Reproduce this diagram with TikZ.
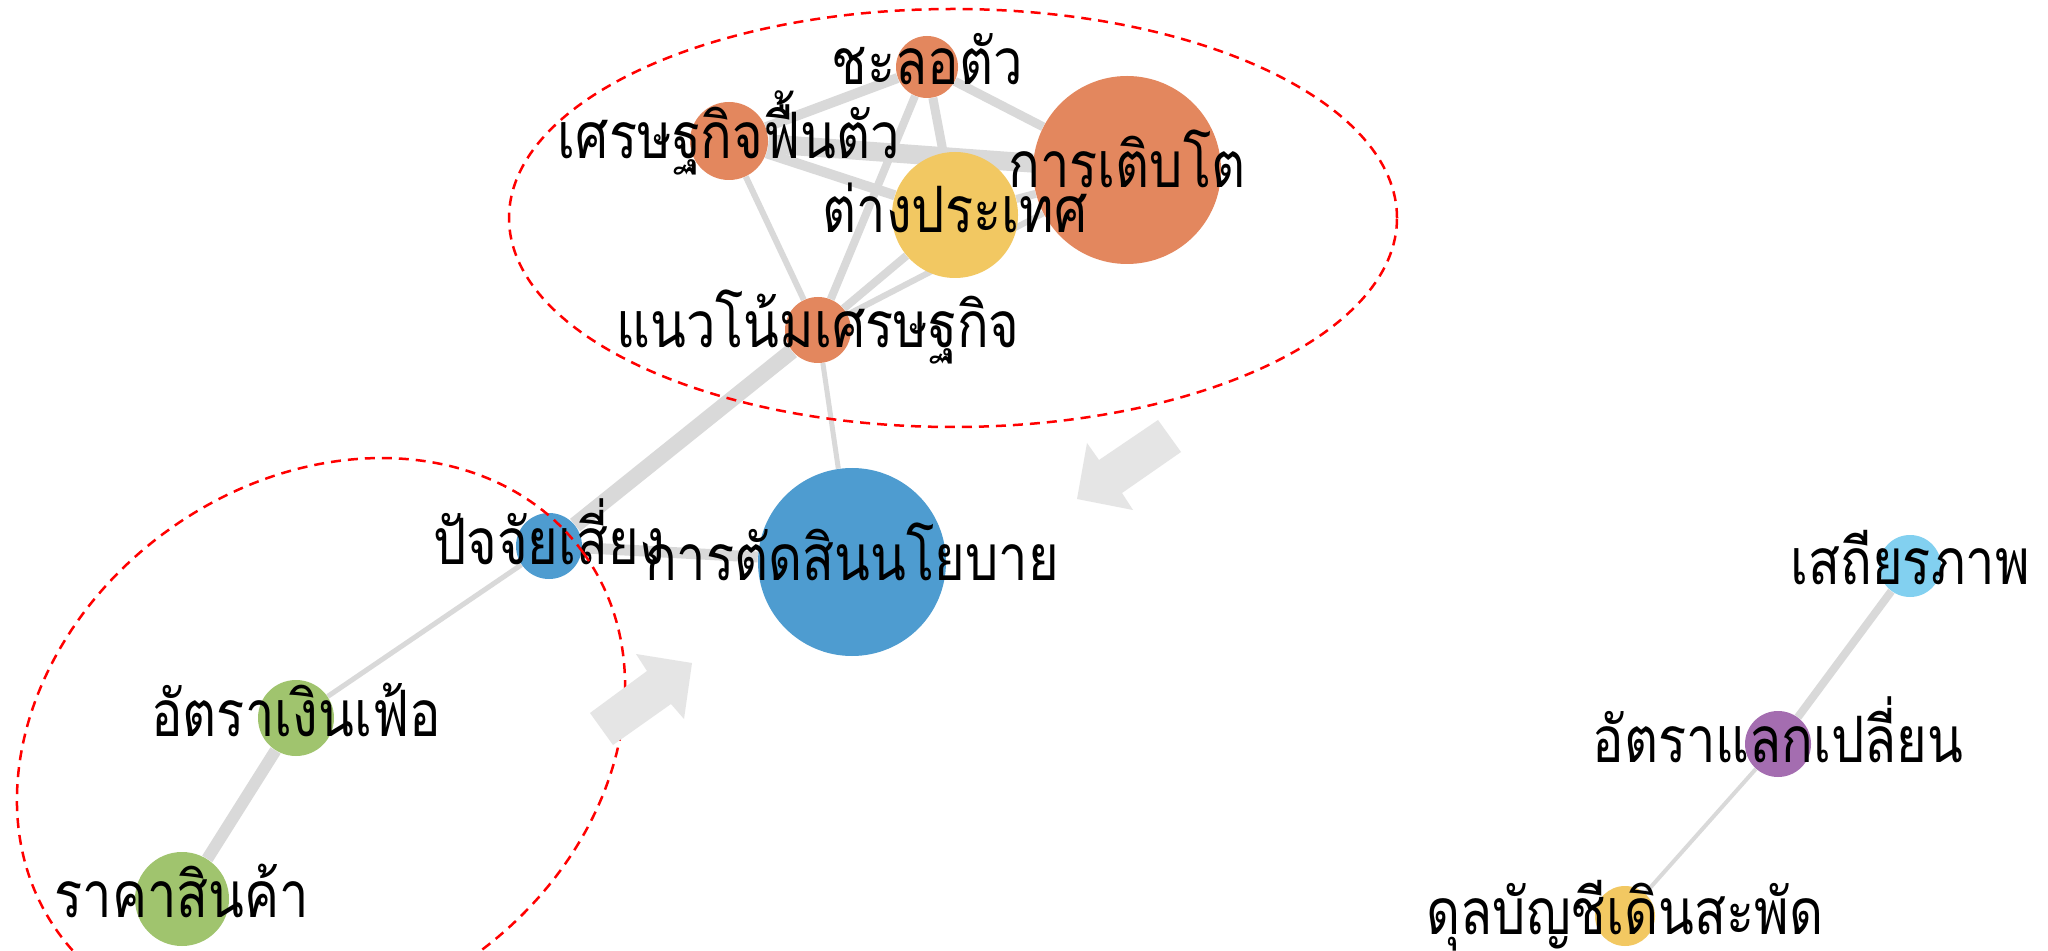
\documentclass[tikz,border=0pt]{standalone}
\usepackage{fontspec}
\newfontfamily\thaifont[Script=Thai,FakeStretch=0.82]{Loma}
\definecolor{edgegray}{RGB}{217,217,217}
\definecolor{arrowgray}{RGB}{229,229,229}
\definecolor{cOrange}{RGB}{227,135,94}
\definecolor{cYellow}{RGB}{242,200,98}
\definecolor{cBlue}{RGB}{78,156,208}
\definecolor{cGreen}{RGB}{160,196,110}
\definecolor{cSky}{RGB}{130,208,240}
\definecolor{cPurple}{RGB}{164,109,176}
\pgfdeclarelayer{edges}
\pgfdeclarelayer{front}
\pgfsetlayers{edges,main,front}
\begin{document}
\begin{tikzpicture}[x=0.5pt,y=-0.5pt,
  dot/.style={circle,inner sep=0pt,draw=none},
  lbl/.style={font=\thaifont\fontsize{32}{32}\selectfont,inner sep=0pt,anchor=base},
  lnk/.style={draw=edgegray,line cap=butt},
  grp/.style={draw=red,line width=1.25pt,dash pattern=on 5pt off 3.5pt},
  bigarrow/.style={fill=arrowgray,draw=none}]
\useasboundingbox (0,0) rectangle (2048,951);
% nodes
\node[dot,fill=cOrange,minimum size=31pt] (cha) at (927,67) {};
\node[dot,fill=cOrange,minimum size=39pt] (fuen) at (729,141) {};
\node[dot,fill=cOrange,minimum size=94pt] (toe) at (1127,170) {};
\node[dot,fill=cYellow,minimum size=63pt] (tang) at (955,215) {};
\node[dot,fill=cOrange,minimum size=33pt] (naew) at (818,330) {};
\node[dot,fill=cBlue,minimum size=94pt] (tad) at (852,562) {};
\node[dot,fill=cBlue,minimum size=33pt] (pat) at (549,546) {};
\node[dot,fill=cGreen,minimum size=38pt] (fer) at (296,718) {};
\node[dot,fill=cGreen,minimum size=47pt] (rak) at (182,899) {};
\node[dot,fill=cSky,minimum size=31pt] (sat) at (1910,566) {};
\node[dot,fill=cPurple,minimum size=33pt] (laek) at (1778,744) {};
\node[dot,fill=cYellow,minimum size=30pt] (dun) at (1625,916) {};
% edges
\begin{pgfonlayer}{edges}
\fill[white] (0,0) rectangle (2048,951);
\draw[lnk,line width=5pt] (cha) -- (fuen);
\draw[lnk,line width=4.5pt] (cha) -- (toe);
\draw[lnk,line width=4.5pt] (cha) -- (tang);
\draw[lnk,line width=4pt] (cha) -- (naew);
\draw[lnk,line width=9.5pt] (fuen) -- (toe);
\draw[lnk,line width=5pt] (fuen) -- (tang);
\draw[lnk,line width=3pt] (fuen) -- (naew);
\draw[lnk,line width=4pt] (tang) -- (toe);
\draw[lnk,line width=4pt] (naew) -- (tang);
\draw[lnk,line width=3pt] (naew) -- (toe);
\draw[lnk,line width=2.5pt] (naew) -- (tad);
\draw[lnk,line width=8pt] (naew) -- (pat);
\draw[lnk,line width=5.5pt] (pat) -- (tad);
\draw[lnk,line width=2.5pt] (pat) -- (fer);
\draw[lnk,line width=6pt] (fer) -- (rak);
\draw[lnk,line width=4pt] (sat) -- (laek);
\draw[lnk,line width=2pt] (laek) -- (dun);
\end{pgfonlayer}
% labels, groups and arrows
\begin{pgfonlayer}{front}
\node[lbl] (cha-t) at ([yshift=-9pt]cha.center) {ชะลอตัว};
\node[lbl] (fuen-t) at ([yshift=-9pt]fuen.center) {เศรษฐกิจฟื้นตัว};
\node[lbl] (toe-t) at ([yshift=-9pt]toe.center) {การเติบโต};
\node[lbl] (tang-t) at ([yshift=-9pt]tang.center) {ต่างประเทศ};
\node[lbl] (naew-t) at ([yshift=-9pt]naew.center) {แนวโน้มเศรษฐกิจ};
\node[lbl] (tad-t) at ([yshift=-9pt]tad.center) {การตัดสินนโยบาย};
\node[lbl] (pat-t) at ([yshift=-9pt]pat.center) {ปัจจัยเสี่ยง};
\node[lbl] (fer-t) at ([yshift=-9pt]fer.center) {อัตราเงินเฟ้อ};
\node[lbl] (rak-t) at ([yshift=-9pt]rak.center) {ราคาสินค้า};
\node[lbl] (sat-t) at ([yshift=-9pt]sat.center) {เสถียรภาพ};
\node[lbl] (laek-t) at ([yshift=-9pt]laek.center) {อัตราแลกเปลี่ยน};
\node[lbl] (dun-t) at ([yshift=-9pt]dun.center) {ดุลบัญชีเดินสะพัด};
\draw[grp] (953,218) ellipse [x radius=222pt, y radius=104.5pt];
\draw[grp] (321,743) ellipse [x radius=162pt, y radius=131pt, rotate=36];
\fill[bigarrow] (1158,420) -- (1181,452) -- (1122,493) -- (1133,510) -- (1077,499) -- (1087,443) -- (1099,460) -- cycle;
\fill[bigarrow] (590,713) -- (613,745) -- (671,704) -- (684,719) -- (692,663) -- (636,654) -- (647,671) -- cycle;
\end{pgfonlayer}
\end{tikzpicture}
\end{document}
